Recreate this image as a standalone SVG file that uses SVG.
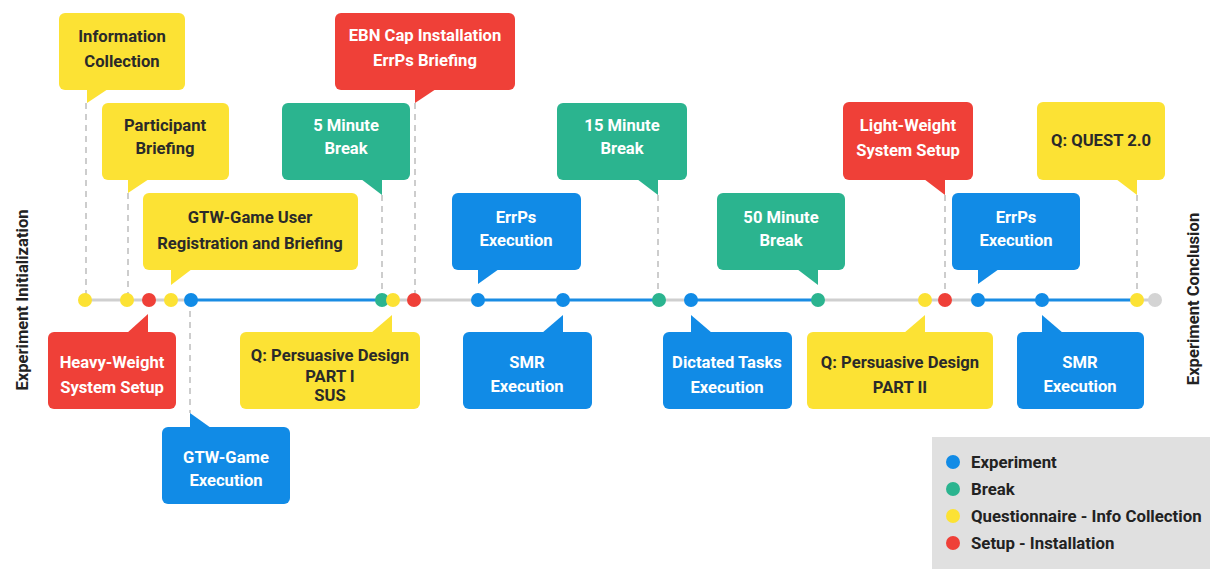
<svg xmlns="http://www.w3.org/2000/svg" width="1210" height="569" viewBox="0 0 1210 569">
<style>
.y{fill:#FCE234}.r{fill:#EF4038}.t{fill:#2BB48F}.b{fill:#118BE6}
.lb{font-family:Roboto,"Liberation Sans",sans-serif;font-size:16.6px;font-weight:700;text-anchor:middle}
.dk{fill:#2a2a2a}.wt{fill:#ffffff}
.dash{stroke:#bdbdbd;stroke-width:1.5;stroke-dasharray:6 5;fill:none}
.side{font-family:Roboto,"Liberation Sans",sans-serif;font-size:16.6px;font-weight:700;fill:#222;text-anchor:middle}
.leg{font-family:Roboto,"Liberation Sans",sans-serif;font-size:16.8px;font-weight:700;fill:#222}
</style>
<rect width="1210" height="569" fill="#ffffff"/>
<g id="connectors">
<line class="dash" x1="86" y1="103" x2="86" y2="300"/>
<line class="dash" x1="128" y1="193" x2="128" y2="300"/>
<line class="dash" x1="382" y1="195" x2="382" y2="300"/>
<line class="dash" x1="415" y1="103" x2="415" y2="300"/>
<line class="dash" x1="658" y1="195" x2="658" y2="300"/>
<line class="dash" x1="945" y1="195" x2="945" y2="300"/>
<line class="dash" x1="1137" y1="195" x2="1137" y2="300"/>
<line class="dash" x1="190" y1="300" x2="190" y2="413"/>
<g stroke-width="3">
<line x1="85" y1="300" x2="191" y2="300" stroke="#cfcfcf"/>
<line x1="191" y1="300" x2="382" y2="300" stroke="#1A8CE3"/>
<line x1="393" y1="300" x2="478" y2="300" stroke="#cfcfcf"/>
<line x1="478" y1="300" x2="658" y2="300" stroke="#1A8CE3"/>
<line x1="658" y1="300" x2="690" y2="300" stroke="#cfcfcf"/>
<line x1="690" y1="300" x2="818" y2="300" stroke="#1A8CE3"/>
<line x1="818" y1="300" x2="978" y2="300" stroke="#cfcfcf"/>
<line x1="978" y1="300" x2="1137" y2="300" stroke="#1A8CE3"/>
<line x1="1137" y1="300" x2="1155" y2="300" stroke="#cfcfcf"/>
</g>
<g>
<circle class="y" cx="85" cy="300" r="7"/>
<circle class="y" cx="127" cy="300" r="7"/>
<circle class="r" cx="149" cy="300" r="7"/>
<circle class="y" cx="171" cy="300" r="7"/>
<circle class="b" cx="191" cy="300" r="7"/>
<circle class="t" cx="382" cy="300" r="7"/>
<circle class="y" cx="393" cy="300" r="7"/>
<circle class="r" cx="414" cy="300" r="7"/>
<circle class="b" cx="478" cy="300" r="7"/>
<circle class="b" cx="563" cy="300" r="7"/>
<circle class="t" cx="659" cy="300" r="7"/>
<circle class="b" cx="691" cy="300" r="7"/>
<circle class="t" cx="818" cy="300" r="7"/>
<circle class="y" cx="925" cy="300" r="7"/>
<circle class="r" cx="945" cy="300" r="7"/>
<circle class="b" cx="978" cy="300" r="7"/>
<circle class="b" cx="1042" cy="300" r="7"/>
<circle class="y" cx="1137" cy="300" r="7"/>
<circle cx="1155" cy="300" r="7" fill="#d4d4d4"/>
</g>
</g>
<g id="n-info"><rect class="y" x="59" y="13" width="126" height="77" rx="6"/><polygon class="y" points="87,89 108,89 87,103"/><text class="lb dk" x="122" y="42">Information</text><text class="lb dk" x="122" y="67">Collection</text></g>
<g id="n-participant"><rect class="y" x="102" y="103" width="127" height="77" rx="6"/><polygon class="y" points="128,179 149,179 128,193"/><text class="lb dk" x="165" y="131">Participant</text><text class="lb dk" x="165" y="154">Briefing</text></g>
<g id="n-gtwreg"><rect class="y" x="143" y="193" width="215" height="77" rx="6"/><polygon class="y" points="171,269 192,269 171,285"/><text class="lb dk" x="250" y="223">GTW-Game User</text><text class="lb dk" x="250" y="249">Registration and Briefing</text></g>
<g id="n-5min"><rect class="t" x="282" y="103" width="128" height="77" rx="6"/><polygon class="t" points="361,179 382,179 382,195"/><text class="lb wt" x="346" y="131">5 Minute</text><text class="lb wt" x="346" y="154">Break</text></g>
<g id="n-ebn"><rect class="r" x="335" y="13" width="180" height="77" rx="6"/><polygon class="r" points="415,89 436,89 415,103"/><text class="lb wt" x="425" y="41">EBN Cap Installation</text><text class="lb wt" x="425" y="66">ErrPs Briefing</text></g>
<g id="n-errps1"><rect class="b" x="452" y="193" width="129" height="77" rx="6"/><polygon class="b" points="478,269 499,269 478,284"/><text class="lb wt" x="516" y="223">ErrPs</text><text class="lb wt" x="516" y="246">Execution</text></g>
<g id="n-15min"><rect class="t" x="557" y="103" width="130" height="77" rx="6"/><polygon class="t" points="637,179 658,179 658,195"/><text class="lb wt" x="622" y="131">15 Minute</text><text class="lb wt" x="622" y="154">Break</text></g>
<g id="n-50min"><rect class="t" x="717" y="193" width="128" height="77" rx="6"/><polygon class="t" points="797,269 818,269 818,285"/><text class="lb wt" x="781" y="223">50 Minute</text><text class="lb wt" x="781" y="246">Break</text></g>
<g id="n-light"><rect class="r" x="843" y="102" width="130" height="78" rx="6"/><polygon class="r" points="924,179 945,179 945,195"/><text class="lb wt" x="908" y="131">Light-Weight</text><text class="lb wt" x="908" y="156">System Setup</text></g>
<g id="n-quest"><rect class="y" x="1037" y="102" width="128" height="78" rx="6"/><polygon class="y" points="1116,179 1137,179 1137,195"/><text class="lb dk" x="1101" y="146">Q: QUEST 2.0</text></g>
<g id="n-errps2"><rect class="b" x="952" y="193" width="128" height="77" rx="6"/><polygon class="b" points="978,269 999,269 978,284"/><text class="lb wt" x="1016" y="223">ErrPs</text><text class="lb wt" x="1016" y="246">Execution</text></g>
<g id="n-heavy"><rect class="r" x="48" y="332" width="128" height="77" rx="6"/><polygon class="r" points="127,333 148,333 148,314"/><text class="lb wt" x="112" y="368">Heavy-Weight</text><text class="lb wt" x="112" y="393">System Setup</text></g>
<g id="n-gtwexec"><rect class="b" x="162" y="427" width="128" height="77" rx="6"/><polygon class="b" points="190,428 211,428 190,413"/><text class="lb wt" x="226" y="463">GTW-Game</text><text class="lb wt" x="226" y="486">Execution</text></g>
<g id="n-q1"><rect class="y" x="240" y="332" width="180" height="77" rx="6"/><polygon class="y" points="371,333 392,333 392,315"/><text class="lb dk" x="330" y="361">Q: Persuasive Design</text><text class="lb dk" x="330" y="382">PART I</text><text class="lb dk" x="330" y="401">SUS</text></g>
<g id="n-smr1"><rect class="b" x="463" y="332" width="129" height="77" rx="6"/><polygon class="b" points="542,333 563,333 563,315"/><text class="lb wt" x="527" y="368">SMR</text><text class="lb wt" x="527" y="392">Execution</text></g>
<g id="n-dictated"><rect class="b" x="663" y="332" width="129" height="77" rx="6"/><polygon class="b" points="691,333 712,333 691,315"/><text class="lb wt" x="727" y="368">Dictated Tasks</text><text class="lb wt" x="727" y="393">Execution</text></g>
<g id="n-q2"><rect class="y" x="807" y="332" width="186" height="77" rx="6"/><polygon class="y" points="904,333 925,333 925,315"/><text class="lb dk" x="900" y="368">Q: Persuasive Design</text><text class="lb dk" x="900" y="393">PART II</text></g>
<g id="n-smr2"><rect class="b" x="1017" y="332" width="127" height="77" rx="6"/><polygon class="b" points="1042,333 1063,333 1042,315"/><text class="lb wt" x="1080" y="368">SMR</text><text class="lb wt" x="1080" y="392">Execution</text></g>
<g id="side-labels">
<text class="side" transform="translate(28,300) rotate(-90)">Experiment Initialization</text>
<text class="side" transform="translate(1199,299) rotate(-90)">Experiment Conclusion</text>
</g>
<g id="legend">
<rect x="932" y="437" width="278" height="132" fill="#e0e0e0"/>
<circle class="b" cx="953" cy="462" r="7"/><text class="leg" x="971" y="468">Experiment</text>
<circle class="t" cx="953" cy="489" r="7"/><text class="leg" x="971" y="495">Break</text>
<circle class="y" cx="953" cy="516" r="7"/><text class="leg" x="971" y="522">Questionnaire - Info Collection</text>
<circle class="r" cx="953" cy="543" r="7"/><text class="leg" x="971" y="549">Setup - Installation</text>
</g>
</svg>
